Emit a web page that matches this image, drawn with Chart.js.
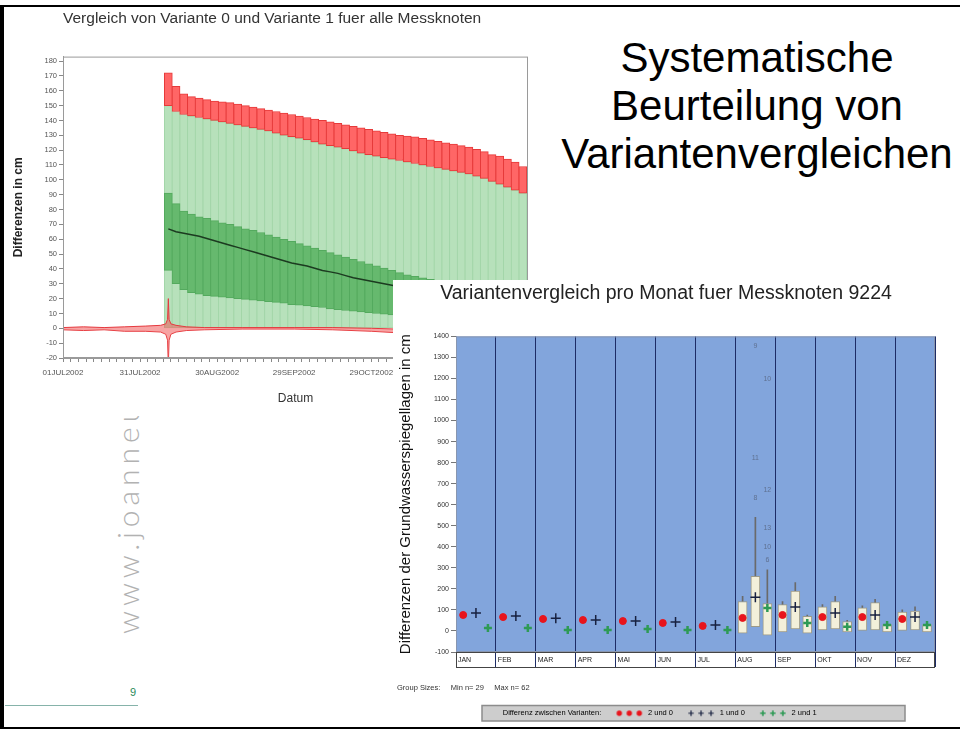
<!DOCTYPE html>
<html>
<head>
<meta charset="utf-8">
<script src="https://cdn.jsdelivr.net/npm/chart.js@4/dist/chart.umd.min.js"></script>
<style>
  html, body { margin: 0; padding: 0; background: #fff; }
  body { width: 960px; height: 731px; position: relative; overflow: hidden; font-family: "Liberation Sans", Arial, sans-serif; }
  .rule { position: absolute; background: #000; }
  #heading { position: absolute; left: 537px; top: 34px; width: 440px; text-align: center; font-size: 42px; line-height: 48px; color: #000; }
  #web { position: absolute; left: 112px; top: 634px; transform: rotate(-90deg); transform-origin: 0 0; white-space: nowrap;
         font-family: Lato, "Open Sans", sans-serif; font-weight: 300; font-size: 30px; line-height: 30px; letter-spacing: 5px; color: #b2b2b2; }
  #pageLine { position: absolute; left: 5px; top: 705px; width: 133px; height: 1px; background: #86b3aa; }
  #pageNo { position: absolute; left: 130px; top: 686px; font-size: 11px; color: #2a8a5a; }
  #leftBox { position: absolute; left: 5px; top: 8px; width: 540px; height: 408px; background: #fff; }
  #rightBox { position: absolute; left: 393px; top: 280px; width: 567px; height: 447px; background: #fff; }
</style>
</head>
<body>
<div id="web">www.joanneum.at</div>
<div id="pageLine"></div>
<div id="pageNo">9</div>
<div id="heading">Systematische<br>Beurteilung von<br>Variantenvergleichen</div>
<div id="leftBox"><canvas id="left" width="540" height="408"></canvas></div>
<div id="rightBox"><canvas id="right" width="567" height="447"></canvas></div>
<div class="rule" style="left:0;top:5px;width:960px;height:2px"></div>
<div class="rule" style="left:0;top:5px;width:4px;height:724px"></div>
<div class="rule" style="left:0;top:727px;width:960px;height:2px"></div>

<script>
// ---- left chart: daily differences Variante 1 - Variante 0 (days since 01JUL2002)
const days = [41,44,47,50,53,56,59,62,65,68,71,74,77,80,83,86,89,92,95,98,101,104,107,110,113,116,119,122,125,128,131,134,137,140,143,146,149,152,155,158,161,164,167,170,173,176,179]
const maxVals = [172,163,158,156,155,154,153,152.5,152,151,150,149,148,147,146,145,144,143,142,141,140,139,138,137,136,135,134,133,132,131,130,129.5,129,128,127,126,125,124,123,122,120.5,119,117,116,114,112,109]
const upperVals = [150,146,144,143,142,141,140,139,138,137,136,135,134,133,131.5,130,129,128,127,125.5,124,123,122,121,119.5,118,117,116,115,114,113,112,111,110,109,108,107,106,105,104,102.5,101,99,97,95,93,91]
const q3Vals = [91,84,79,77,75,74,72.5,71,70,68.5,67,66,64.5,63,61.5,60,58.5,57,55.5,54,52.5,51,49.5,48,46.5,45,43.5,42,40.5,39,37.5,36,35,34,33,32,31,30,29,28,27,26,25,24,23,22,21]
const medianVals = [67,65,64,63,62,60.5,59,57.5,56,54.5,53,51.5,50,48.5,47,45.5,44,43,42,40.5,39,38,37,35.5,34,33,32,31,30,29,28,27,26,25,24,23,22,21,20,19,18,17,16,15,14,13,12]
const q1Vals = [39,30,26,24,23,22,21.5,21,20.5,20,19.5,19,18.5,18,17.5,17,16,15.5,15,14.5,14,13,12.5,12,11.5,11,10.5,10,9.5,9,8.5,8,7.5,7,6.5,6,5.5,5,4.5,4,3.5,3,2.5,2,1.5,1,0.5]
const nearZeroDays = [0,8,16,24,32,38,40,40.7,41,41.3,42,44,48,55,70,90,105,120,130,140,150,160,170,181]
const nearZeroHigh = [0.5,1,0.5,1,1.5,2,3,6,20,6,3,2,1,0.5,0.5,0.5,0.5,0,-0.5,-1,-1.5,-2,-2.5,-3]
const nearZeroLow = [-1,-1.5,-1,-2,-2,-2.5,-4,-8,-25,-8,-4,-2.5,-1.5,-1,-0.5,-0.5,-1,-2,-3,-4,-5,-6,-7,-8]

const monAbbr = ['JAN','FEB','MAR','APR','MAY','JUN','JUL','AUG','SEP','OCT','NOV','DEC']
function dayLabel(v) {
  const d = new Date(Date.UTC(2002, 6, 1 + v))
  return String(d.getUTCDate()).padStart(2, '0') + monAbbr[d.getUTCMonth()] + d.getUTCFullYear()
}

const frame = {
  id: 'frame',
  afterDatasetsDraw(chart, args, opts) {
    const a = chart.chartArea, ctx = chart.ctx
    ctx.save()
    ctx.strokeStyle = opts.color
    ctx.lineWidth = 1
    ctx.strokeRect(a.left + 0.5, a.top + 0.5, a.right - a.left - 1, a.bottom - a.top - 1)
    ctx.restore()
  }
}

const pts = (xs, ys) => xs.map((x, i) => ({ x: x, y: ys[i] }))

new Chart(document.getElementById('left'), {
  type: 'bar',
  data: {
    datasets: [
      { type: 'line', label: 'Abweichung oben', data: pts(nearZeroDays, nearZeroHigh), borderColor: '#e53a3f', borderWidth: 1,
        pointRadius: 0, fill: '+1', backgroundColor: 'rgba(240,90,90,0.55)', order: 0 },
      { type: 'line', label: 'Abweichung unten', data: pts(nearZeroDays, nearZeroLow), borderColor: '#e53a3f', borderWidth: 1,
        pointRadius: 0, fill: false, order: 0 },
      { type: 'line', label: 'Median', data: pts(days, medianVals), borderColor: '#1c3a20', borderWidth: 1.5, pointRadius: 0, order: 1 },
      { label: 'Maximum', data: days.map((d, i) => ({ x: d, y: [upperVals[i], maxVals[i]] })), backgroundColor: '#ff6666',
        borderColor: '#e63a3a', borderWidth: 1, borderSkipped: false, barThickness: 8, grouped: false, order: 3 },
      { label: 'Quartile', data: days.map((d, i) => ({ x: d, y: [q1Vals[i], q3Vals[i]] })), backgroundColor: '#66b96e',
        borderColor: '#54aa5e', borderWidth: 1, borderSkipped: false, barThickness: 8, grouped: false, order: 4 },
      { label: 'Bereich', data: pts(days, upperVals), backgroundColor: '#b7e1bb', borderColor: '#a3d6a9', borderWidth: 1,
        borderSkipped: false, barThickness: 8, grouped: false, order: 5 }
    ]
  },
  options: {
    responsive: false,
    animation: false,
    layout: { padding: { left: 0, right: 17, top: 0, bottom: 0 } },
    plugins: {
      legend: { display: false },
      tooltip: { enabled: false },
      title: { display: true, text: 'Vergleich von Variante 0 und Variante 1 fuer alle Messknoten', align: 'start', fullSize: false,
        color: '#333', font: { family: 'Liberation Sans, Arial', size: 15.5, weight: 'normal' }, padding: { top: 1, bottom: 29 } },
      frame: { color: '#9a9a9a' }
    },
    scales: {
      x: {
        type: 'linear', min: 0, max: 181, offset: false,
        grid: { drawOnChartArea: false, offset: false, tickLength: 4, color: '#888' },
        border: { color: '#9a9a9a' },
        ticks: { stepSize: 3, autoSkip: false, maxRotation: 0, includeBounds: false, color: '#555', padding: 6,
          font: { family: 'Liberation Sans, Arial', size: 8 },
          // the 28DEC2002 label sits under the second chart
          callback: v => (v % 30 === 0 && v < 180 ? dayLabel(v) : '') },
        title: { display: true, text: 'Datum', color: '#333', font: { family: 'Liberation Sans, Arial', size: 12 }, padding: { top: 4, bottom: 10 } },
        afterFit: s => { s.height = 58 }
      },
      y: {
        min: -20, max: 183,
        grid: { drawOnChartArea: false, tickLength: 4, color: '#888' },
        border: { color: '#9a9a9a' },
        ticks: { stepSize: 10, includeBounds: false, color: '#555', padding: 2, font: { family: 'Liberation Sans, Arial', size: 7.5 } },
        title: { display: true, text: 'Differenzen in cm', color: '#222', font: { family: 'Liberation Sans, Arial', size: 12, weight: 'bold' }, padding: { top: 6, bottom: 0 } },
        afterFit: s => { s.width = 58 }
      }
    }
  },
  plugins: [frame]
})

// ---- right chart: monthly comparison for Messknoten 9224
const months = ['JAN','FEB','MAR','APR','MAI','JUN','JUL','AUG','SEP','OKT','NOV','DEZ']
const mean20 = [76,66,57,52,47,38,24,62,76,66,66,57]
const mean10 = [85,71,61,52,47,43,28,160,114,85,76,66]
const mean21 = [14,14,5,5,9,5,5,109,38,20,28,28]
const box20Low  = [null,null,null,null,null,null,null,-10,-5,5,0,0]
const box20High = [null,null,null,null,null,null,null,140,125,115,110,90]
const box20Top  = [null,null,null,null,null,null,null,165,140,125,120,100]
const box10Low  = [null,null,null,null,null,null,null,20,10,10,5,5]
const box10High = [null,null,null,null,null,null,null,260,190,140,135,95]
const box10Top  = [null,null,null,null,null,null,null,540,230,165,150,115]
const box21Low  = [null,null,null,null,null,null,null,-20,-10,-5,-5,-5]
const box21High = [null,null,null,null,null,null,null,130,70,45,30,30]
const box21Top  = [null,null,null,null,null,null,null,290,75,50,35,35]
const outMonth = [7,7,7,7,7,7,7,7]
const outGroup = [1,2,1,2,1,2,2,2]
const outValue = [1353,1197,823,672,634,487,397,336]
const outText  = ['9','10','11','12','8','13','10','6']
const groupMin = 29
const groupMax = 62

const slot = [0.18, 0.5, 0.8]
const atSlot = (g, ys) => ys.map((y, i) => ({ x: i + slot[g], y: y }))
const boxData = (g, lo, hi) => lo.map((l, i) => ({ x: i + slot[g], y: l === null ? null : [l, hi[i]] }))

// three marks side by side for the legend keys
function tripleMark(style, color, r, lw) {
  const c = document.createElement('canvas')
  c.width = 30; c.height = 10
  const g = c.getContext('2d')
  g.fillStyle = color; g.strokeStyle = color; g.lineWidth = lw
  for (let k = 0; k < 3; k++) {
    const cx = 5 + k * 10, cy = 5
    g.beginPath()
    if (style === 'circle') { g.arc(cx, cy, r, 0, Math.PI * 2); g.fill() }
    else { g.moveTo(cx - r, cy); g.lineTo(cx + r, cy); g.moveTo(cx, cy - r); g.lineTo(cx, cy + r); g.stroke() }
  }
  return c
}

const panel = {
  id: 'panel',
  beforeDraw(chart) {
    const a = chart.chartArea, ctx = chart.ctx
    ctx.save()
    ctx.fillStyle = '#82a5dc'
    ctx.fillRect(a.left, a.top, a.right - a.left, a.bottom - a.top)
    // legend background
    const lg = chart.legend
    if (lg && lg.legendHitBoxes && lg.legendHitBoxes.length) {
      const hb = lg.legendHitBoxes
      const x0 = a.left + 26, x1 = a.right - 30
      const y0 = Math.min(...hb.map(h => h.top)) - 4
      const y1 = Math.max(...hb.map(h => h.top + h.height)) + 4
      ctx.fillStyle = '#cdcdcd'
      ctx.fillRect(x0, y0, x1 - x0, y1 - y0)
      ctx.strokeStyle = '#8c8c8c'
      ctx.lineWidth = 1.5
      ctx.strokeRect(x0, y0, x1 - x0, y1 - y0)
    }
    ctx.restore()
  },
  afterDraw(chart) {
    const a = chart.chartArea, ctx = chart.ctx
    ctx.save()
    ctx.strokeStyle = '#444'
    ctx.lineWidth = 1
    ctx.strokeRect(a.left + 0.5, a.bottom + 0.5, a.right - a.left - 1, 15)
    ctx.strokeStyle = '#8896b0'
    ctx.strokeRect(a.left + 0.5, a.top + 0.5, a.right - a.left - 1, a.bottom - a.top - 1)
    // outlier id labels
    const xs = chart.scales.x, ys = chart.scales.y
    ctx.fillStyle = '#5f7192'
    ctx.font = '7px "Liberation Sans", Arial'
    ctx.textAlign = 'center'
    ctx.textBaseline = 'middle'
    outValue.forEach((v, i) => {
      ctx.fillText(outText[i], xs.getPixelForValue(outMonth[i] + slot[outGroup[i]]), ys.getPixelForValue(v))
    })
    ctx.restore()
  }
}

const boxStyle = { backgroundColor: '#f3f0da', borderColor: '#9c9a88', borderWidth: 1, borderSkipped: false, barThickness: 9, grouped: false, order: 5 }
const whiskerStyle = { backgroundColor: '#6a6a6a', borderWidth: 0, barThickness: 1, grouped: false, order: 6 }

const keyMarks = [tripleMark('circle', '#e8141c', 2.7, 1), tripleMark('cross', '#17203f', 2.7, 1.2), tripleMark('cross', '#2e9a55', 2.7, 1.6)]

new Chart(document.getElementById('right'), {
  type: 'bar',
  data: {
    datasets: [
      { type: 'scatter', label: '2 und 0', data: atSlot(0, mean20), pointStyle: 'circle', pointRadius: 3.5,
        backgroundColor: '#e8141c', borderColor: '#e8141c', order: 0 },
      { type: 'scatter', label: '1 und 0', data: atSlot(1, mean10), pointStyle: 'cross', pointRadius: 5,
        borderColor: '#17203f', backgroundColor: '#17203f', pointBorderWidth: 1.5, order: 0 },
      { type: 'scatter', label: '2 und 1', data: atSlot(2, mean21), pointStyle: 'cross', pointRadius: 4,
        borderColor: '#2e9a55', backgroundColor: '#2e9a55', pointBorderWidth: 2.5, order: 0 },
      Object.assign({ label: 'box 2 und 0', data: boxData(0, box20Low, box20High) }, boxStyle),
      Object.assign({ label: 'box 1 und 0', data: boxData(1, box10Low, box10High) }, boxStyle),
      Object.assign({ label: 'box 2 und 1', data: boxData(2, box21Low, box21High) }, boxStyle),
      Object.assign({ label: 'whisker 2 und 0', data: boxData(0, box20High, box20Top) }, whiskerStyle),
      Object.assign({ label: 'whisker 1 und 0', data: boxData(1, box10High, box10Top) }, whiskerStyle),
      Object.assign({ label: 'whisker 2 und 1', data: boxData(2, box21High, box21Top) }, whiskerStyle)
    ]
  },
  options: {
    responsive: false,
    animation: false,
    layout: { padding: { left: 4, right: 25, top: 0, bottom: 0 } },
    plugins: {
      tooltip: { enabled: false },
      title: { display: true, text: 'Variantenvergleich pro Monat fuer Messknoten 9224', color: '#222',
        font: { family: 'Liberation Sans, Arial', size: 19.5, weight: 'normal' }, padding: { top: 2, bottom: 31 } },
      subtitle: { display: true, position: 'bottom', align: 'start', weight: 500,
        text: 'Group Sizes:     Min n= ' + groupMin + '     Max n= ' + groupMax, color: '#333',
        font: { family: 'Liberation Sans, Arial', size: 7.5 }, padding: { top: 15.5, bottom: 4 } },
      legend: {
        position: 'bottom', align: 'start', fullSize: false, weight: 1000,
        labels: {
          usePointStyle: true, pointStyleWidth: 30, boxHeight: 7.5, padding: 13, color: '#222',
          font: { family: 'Liberation Sans, Arial', size: 7.5 },
          generateLabels: chart => [{ text: 'Differenz zwischen Varianten:', fillStyle: 'rgba(0,0,0,0)', strokeStyle: 'rgba(0,0,0,0)', lineWidth: 0, pointStyle: 'circle', datasetIndex: -1 }]
            .concat(chart.data.datasets.slice(0, 3).map((ds, i) => ({
              text: ds.label, fillStyle: ds.backgroundColor, strokeStyle: ds.borderColor,
              lineWidth: 0, pointStyle: keyMarks[i], datasetIndex: i })))
        }
      }
    },
    scales: {
      x: {
        type: 'linear', min: 0, max: 12, offset: false,
        grid: { color: '#1d2c66', lineWidth: 1, tickLength: 15, offset: false },
        border: { display: false },
        ticks: { stepSize: 1, autoSkip: false, maxRotation: 0, align: 'start', padding: -11, color: '#222',
          font: { family: 'Liberation Sans, Arial', size: 7 },
          callback: v => (months[v] ? ' ' + months[v] : '') },
        afterFit: s => { s.height = 16 }
      },
      y: {
        min: -100, max: 1400,
        grid: { drawOnChartArea: false, tickLength: 5, color: '#777' },
        border: { color: '#8896b0' },
        ticks: { stepSize: 100, color: '#333', padding: 2, font: { family: 'Liberation Sans, Arial', size: 7 }, callback: v => String(v) },
        title: { display: true, text: 'Differenzen der Grundwasserspiegellagen in cm', color: '#111',
          font: { family: 'Liberation Sans, Arial', size: 15 }, padding: 0 },
        afterFit: s => { s.width = 59 }
      }
    }
  },
  plugins: [panel]
})
</script>
</body>
</html>
